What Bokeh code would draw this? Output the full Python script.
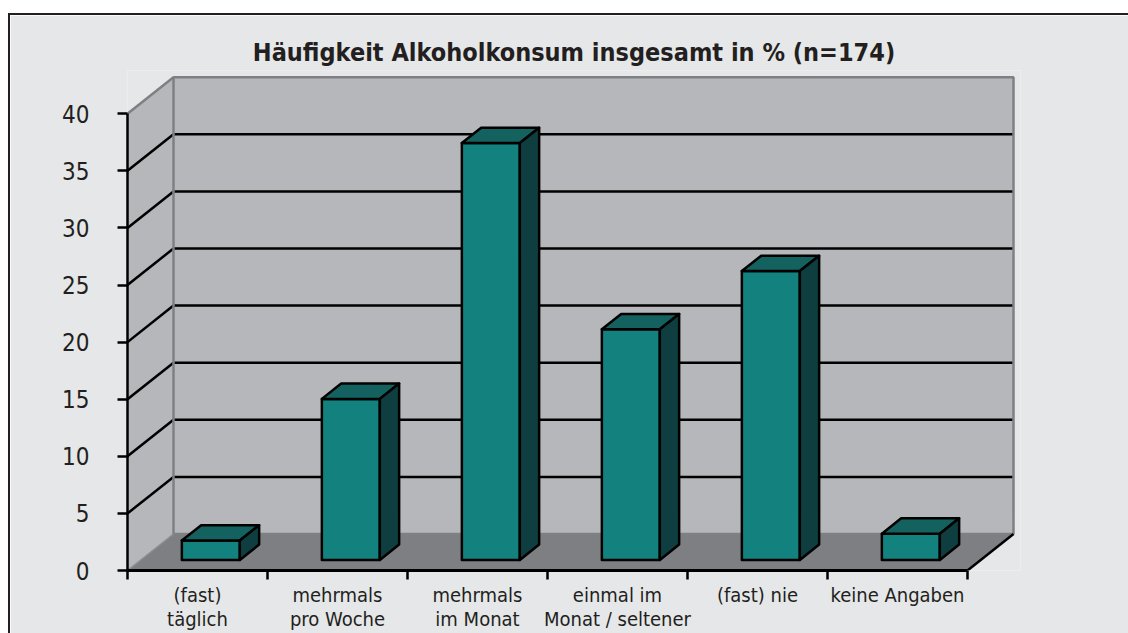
from bokeh.plotting import figure
from bokeh.models import FixedTicker
from bokeh.embed import file_html
from bokeh.resources import INLINE

# ---- data ----
categories = ["(fast)\ntäglich", "mehrmals\npro Woche", "mehrmals\nim Monat",
              "einmal im\nMonat / seltener", "(fast) nie", "keine Angaben"]
values = [1.7, 14.1, 36.5, 20.2, 25.3, 2.3]
y_ticks = [0, 5, 10, 15, 20, 25, 30, 35, 40]
title_text = "Häufigkeit Alkoholkonsum insgesamt in % (n=174)"

# ---- style / geometry ----
FONT = "'DejaVu Sans Condensed', Roboto, sans-serif"
TXT = "#231f20"
BG = "#e6e7e8"
WALL = "#b6b7ba"
WALL_EDGE = "#7f8084"
FLOOR = "#7e7f83"
FRONT = "#13827f"
TOP = "#14625f"
SIDE = "#0f3e41"

n = len(categories)
PX_X = 140.0     # px per category
PX_Y = 11.42     # px per unit
DX = 46.0 / PX_X   # depth offset (category units)
DY = 36.5 / PX_Y   # depth offset (value units)
F0, F1 = 0.29, 0.71  # bar depth span
W = 0.414            # bar width
YMAX = y_ticks[-1]
FW, FH = 893, 500

p = figure(frame_width=FW, frame_height=FH,
           x_range=(-0.5, -0.5 + FW / PX_X), y_range=(0, FH / PX_Y),
           output_backend="svg", toolbar_location=None,
           min_border_left=117, min_border_right=108,
           min_border_top=55, min_border_bottom=63)
p.background_fill_color = BG
p.border_fill_color = BG
p.outline_line_color = None
p.xgrid.visible = False
p.ygrid.visible = False
p.styles = {"margin-left": "8px", "margin-top": "13px",
            "border-left": "2px solid #231f20", "border-top": "2px solid #231f20"}

# floor
L, R = -0.5, n - 0.5
p.patch([L, R, R + DX, L + DX], [0, 0, DY, DY], fill_color=FLOOR, line_color=None)
# side wall
p.patch([L, L + DX, L + DX, L], [0, DY, YMAX + DY, YMAX], fill_color=WALL, line_color=None)
# back wall
p.quad(left=L + DX, right=R + DX, bottom=DY, top=YMAX + DY, fill_color=WALL, line_color=None)

# gridlines
gt = y_ticks[1:-1]
p.segment(x0=[L + DX] * len(gt), y0=[t + DY for t in gt], x1=[R + DX] * len(gt),
          y1=[t + DY for t in gt], line_color="black", line_width=2.5)
p.segment(x0=[L] * len(gt), y0=gt, x1=[L + DX] * len(gt), y1=[t + DY for t in gt],
          line_color="black", line_width=2.5)

# wall edges
p.quad(left=L + DX, right=R + DX, bottom=DY, top=YMAX + DY, fill_color=None,
       line_color=WALL_EDGE, line_width=2.5)
p.line([L, L + DX], [YMAX, YMAX + DY], line_color=WALL_EDGE, line_width=2.5)
p.line([L, L + DX], [0, DY], line_color="#8c8d90", line_width=1.5)
p.line([R, R + DX], [0, DY], line_color="black", line_width=2.5)

# bars
xs_front_l = [i - W / 2 + F0 * DX for i in range(n)]
xs_front_r = [i + W / 2 + F0 * DX for i in range(n)]
p.quad(left=xs_front_l, right=xs_front_r, bottom=[F0 * DY] * n,
       top=[v + F0 * DY for v in values], fill_color=FRONT, line_color="black",
       line_width=2.5, line_join="round")
top_xs, top_ys, side_xs, side_ys = [], [], [], []
for i, v in enumerate(values):
    a = i - W / 2
    b = i + W / 2
    top_xs.append([a + F0 * DX, b + F0 * DX, b + F1 * DX, a + F1 * DX])
    top_ys.append([v + F0 * DY, v + F0 * DY, v + F1 * DY, v + F1 * DY])
    side_xs.append([b + F0 * DX, b + F1 * DX, b + F1 * DX, b + F0 * DX])
    side_ys.append([F0 * DY, F1 * DY, v + F1 * DY, v + F0 * DY])
p.patches(top_xs, top_ys, fill_color=TOP, line_color="black", line_width=2.5, line_join="round")
p.patches(side_xs, side_ys, fill_color=SIDE, line_color="black", line_width=2.5, line_join="round")

# y axis
ya = p.yaxis[0]
ya.ticker = FixedTicker(ticks=y_ticks)
ya.bounds = (0, YMAX)
ya.axis_line_width = 2.5
ya.axis_line_color = "black"
ya.major_tick_line_width = 2.5
ya.major_tick_line_color = "black"
ya.major_tick_out = 10
ya.major_tick_in = 0
ya.minor_tick_out = 0
ya.minor_tick_in = 0
ya.major_label_text_font = FONT
ya.major_label_text_font_size = "24px"
ya.major_label_text_color = TXT
ya.major_label_standoff = 28

# x axis
xa = p.xaxis[0]
xa.ticker = FixedTicker(ticks=list(range(n)), minor_ticks=[i - 0.5 for i in range(n + 1)])
xa.bounds = (L, R)
xa.axis_line_width = 3
xa.axis_line_color = "black"
xa.major_tick_out = 0
xa.major_tick_in = 0
xa.minor_tick_out = 9
xa.minor_tick_in = 0
xa.minor_tick_line_width = 2.5
xa.minor_tick_line_color = "black"
xa.major_label_overrides = {i: c for i, c in enumerate(categories)}
xa.major_label_text_font = FONT
xa.major_label_text_font_size = "20px"
xa.major_label_text_color = TXT
xa.major_label_text_line_height = 1.0
xa.major_label_standoff = 3

# title
p.title.text = title_text
p.title.align = "center"
p.title.text_font = FONT
p.title.text_font_size = "25px"
p.title.text_font_style = "bold"
p.title.text_color = TXT
p.title.standoff = 8

open("out.html", "w").write(file_html(p, INLINE))
